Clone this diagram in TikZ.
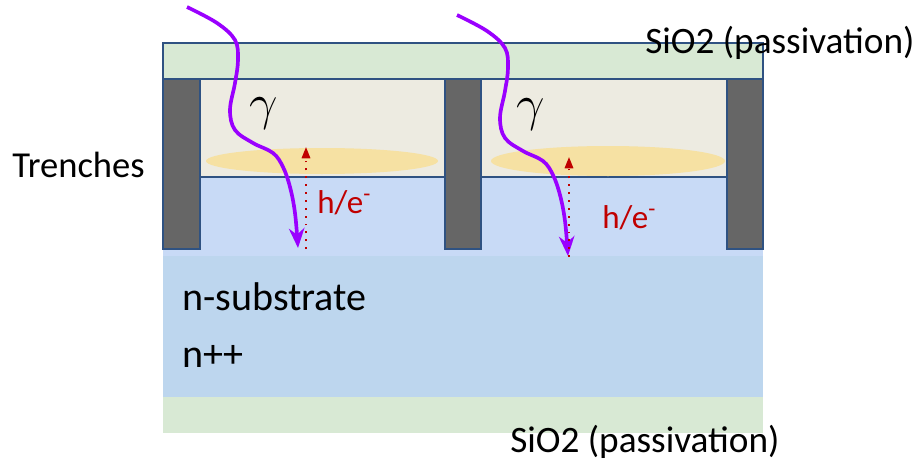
\RequirePackage{fix-cm}
\documentclass[tikz,border=0pt]{standalone}
\usepackage{fontspec}
\setmainfont{Carlito}
\usepackage{tikz}
\usepackage{xcolor}
\usetikzlibrary{arrows.meta}
\definecolor{OxideGreen}{HTML}{D8E9D4}
\definecolor{EdgeBlue}{HTML}{2F5282}
\definecolor{TrenchGray}{HTML}{666666}
\definecolor{CellBeige}{HTML}{EDEBE1}
\definecolor{CellBlue}{HTML}{C8DAF6}
\definecolor{SubBlue}{HTML}{BDD6EE}
\definecolor{DepYellow}{HTML}{F6E1A3}
\definecolor{PhotonPurple}{HTML}{9A00FF}
\definecolor{CarrierRed}{HTML}{C00000}
\tikzset{
    % Oxide layer style
    oxidelayer/.style={
        fill=OxideGreen
    },
    % Bordered style
    edged/.style={
        draw=EdgeBlue,
        line width=1.2pt
    },
    % Trench style
    trenchbox/.style={
        edged,
        fill=TrenchGray
    },
    % Upper cell style
    cellupper/.style={
        edged,
        fill=CellBeige
    },
    % Lower cell style
    celllower/.style={
        fill=CellBlue
    },
    % Substrate style
    substratebox/.style={
        fill=SubBlue
    },
    % Depletion region
    depletion/.style={
        fill=DepYellow
    },
    % Photon arrow
    photon/.style={
        -{Stealth[length=14pt,width=11pt]},
        draw=PhotonPurple,
        line width=2.6pt
    },
    % Carrier drift arrow
    carrier/.style={
        -{Triangle[length=8pt,width=6pt]},
        draw=CarrierRed,
        line width=1.3pt,
        dash pattern=on 1.3pt off 4.3pt
    },
    % Text styles
    layertext/.style={
        inner sep=0pt,
        anchor=base west,
        font=\fontsize{26.5}{30}\selectfont
    },
    substext/.style={
        layertext,
        font=\fontsize{28.5}{32}\selectfont
    },
    carriertext/.style={
        layertext,
        text=CarrierRed,
        font=\fontsize{23.5}{28}\selectfont
    },
    greektext/.style={
        inner sep=0pt,
        font=\fontsize{36}{40}\selectfont
    }
}

\begin{document}
\begin{tikzpicture}[x=0.025cm, y=-0.025cm]
        \useasboundingbox (0,0) rectangle (916,460);

        % Substrate and back oxide
        \fill[substratebox] (163,256) rectangle (763,397);
        \fill[oxidelayer] (163,397) rectangle (763,433);

        % Pixel cells
        \fill[celllower] (163,177) rectangle (763,256);
        \draw[cellupper] (200,79) rectangle (445,177);
        \draw[cellupper] (481,79) rectangle (727,177);
        \fill[depletion] (322,161) ellipse [x radius=116, y radius=13];
        \fill[depletion] (608,161) ellipse [x radius=117, y radius=15];

        % Trenches
        \draw[trenchbox] (163,79) rectangle (200,249);
        \draw[trenchbox] (445,79) rectangle (481,249);
        \draw[trenchbox] (727,79) rectangle (763,249);

        % Front oxide
        \draw[oxidelayer, edged] (163,43) rectangle (763,79);

        % Photons
        \draw[photon] plot[smooth, tension=0.6] coordinates {(187,7) (217,23) (235,40) (238,60) (235,83) (230,110) (235,130) (253,143) (273,153) (283,167) (290,187) (295,213) (298,248)};
        \draw[photon, shift={(270,8)}] plot[smooth, tension=0.6] coordinates {(187,7) (217,23) (235,40) (238,60) (235,83) (230,110) (235,130) (253,143) (273,153) (283,167) (290,187) (295,213) (298,248)};

        % Carriers
        \coordinate (drift1s) at (306,249);
        \coordinate (drift1e) at (306,147);
        \coordinate (drift2s) at (569,257);
        \coordinate (drift2e) at (569,157);
        \draw[carrier] (drift1s) -- (drift1e);
        \draw[carrier] (drift2s) -- (drift2e);

        % Labels
        \node[layertext] (topoxide) at (645,53) {SiO2 (passivation)};
        \node[layertext] (backoxide) at (510,452) {SiO2 (passivation)};
        \node[layertext, font=\fontsize{26}{30}\selectfont] (trenches) at (12,177) {Trenches};
        \node[substext] (nsub) at (182,310) {n-substrate};
        \node[substext] (nplus) at (182,367) {n++};
        \node[greektext] (gamma1) at (264,114) {$\gamma$};
        \node[greektext] (gamma2) at (531,115) {$\gamma$};
        \node[carriertext] (carrier1) at (317,213) {h/e\textsuperscript{-}};
        \node[carriertext] (carrier2) at (602,228) {h/e\textsuperscript{-}};
    \end{tikzpicture}
\end{document}
